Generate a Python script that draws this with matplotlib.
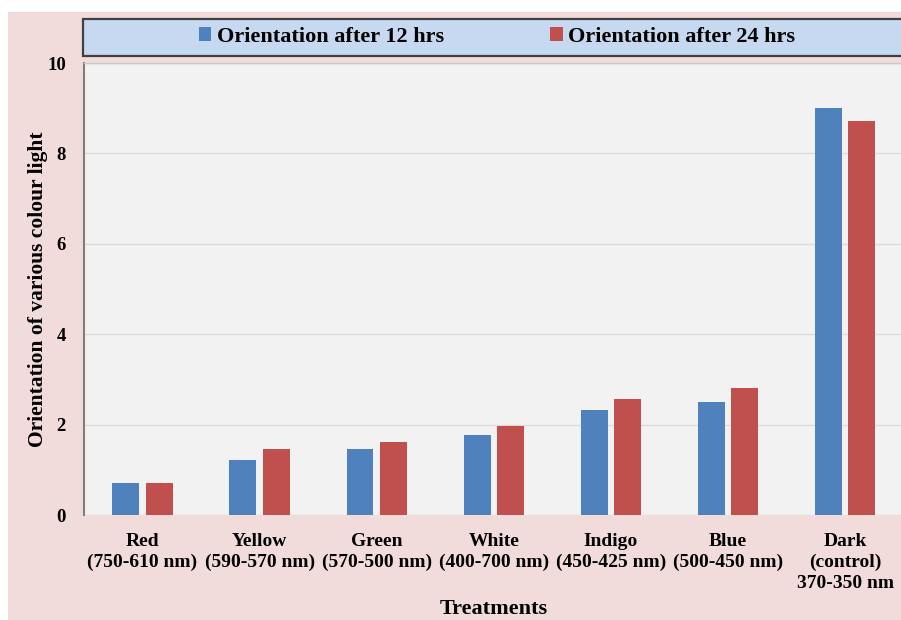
import numpy as np
import matplotlib
matplotlib.use("Agg")
import matplotlib.pyplot as plt
from matplotlib.patches import Rectangle

plt.rcParams['font.family'] = ['Liberation Serif', 'DejaVu Serif']
plt.rcParams['font.weight'] = 'bold'

# --- data ---
categories = ["Red\n(750-610 nm)", "Yellow\n(590-570 nm)", "Green\n(570-500 nm)",
              "White\n(400-700 nm)", "Indigo\n(450-425 nm)", "Blue\n(500-450 nm)",
              "Dark\n(control)\n370-350 nm"]
after_12 = [0.70, 1.21, 1.46, 1.78, 2.32, 2.49, 9.00]
after_24 = [0.70, 1.46, 1.62, 1.97, 2.57, 2.82, 8.71]
series_names = ["Orientation after 12 hrs", "Orientation after 24 hrs"]
yticks = [0, 2, 4, 6, 8, 10]

c_blue = "#4f81bd"
c_red = "#c0504d"

fig = plt.figure(figsize=(9.01, 6.20), dpi=100)
fig.patch.set_facecolor("white")

# pink chart area
fig.patches.append(Rectangle((8 / 901, 0), 1.0, (620 - 12) / 620, transform=fig.transFigure,
                             facecolor="#f2dcdb", edgecolor="none", zorder=-2))
# legend box
fig.patches.append(Rectangle((83 / 901, (620 - 56) / 620), 1.0, 37 / 620, transform=fig.transFigure,
                             facecolor="#c6d9f1", edgecolor="#404040", linewidth=1.6, zorder=-1))

ax = fig.add_axes([84 / 901, (620 - 515) / 620, 1.0 - 84 / 901 + 0.003, (515 - 63) / 620])
ax.set_zorder(2)
ax.set_facecolor("#f2f2f2")

x = np.arange(len(categories))
w = 0.23
off = 0.143
b1 = ax.bar(x - off, after_12, w, color=c_blue, zorder=3, label=series_names[0])
b2 = ax.bar(x + off, after_24, w, color=c_red, zorder=3, label=series_names[1])

ax.set_xlim(-0.5, len(categories) - 0.5)
ax.set_ylim(0, 10)
ax.set_yticks(yticks)
ax.set_yticklabels([str(t) for t in yticks], fontsize=13.5, fontweight='bold')
ax.set_xticks(x)
ax.set_xticklabels(categories, fontsize=14, fontweight='bold', linespacing=1.28)
ax.tick_params(axis='y', length=0, pad=13)
ax.tick_params(axis='x', length=0, pad=13)

ax.yaxis.grid(True, color="#dcdcdc", linewidth=1.0, zorder=0)
ax.set_axisbelow(True)

for s in ["right", "bottom"]:
    ax.spines[s].set_visible(False)
ax.spines["left"].set_color("#7f7f7f")
ax.spines["left"].set_linewidth(1.5)
ax.spines["top"].set_color("#c8c8c8")
ax.spines["top"].set_linewidth(1.0)

ax.set_ylabel("Orientation of various colour light", fontsize=15.5, fontweight='bold')
ax.yaxis.set_label_coords(-0.056, 0.5)
ax.yaxis.label.set_va("center")
ax.set_xlabel("Treatments", fontsize=16, fontweight='bold')
ax.xaxis.set_label_coords(0.5, -0.209)
ax.xaxis.label.set_va("center")

leg = fig.legend(handles=[b1, b2], labels=series_names, loc="center", ncol=2,
                 bbox_to_anchor=(497 / 901, 1 - 37 / 620), frameon=False,
                 prop={'size': 16, 'weight': 'bold'}, handlelength=0.55, handleheight=0.55,
                 handletextpad=0.25, columnspacing=4.8)
leg.set_zorder(3)

fig.savefig("out.png", dpi=100)
